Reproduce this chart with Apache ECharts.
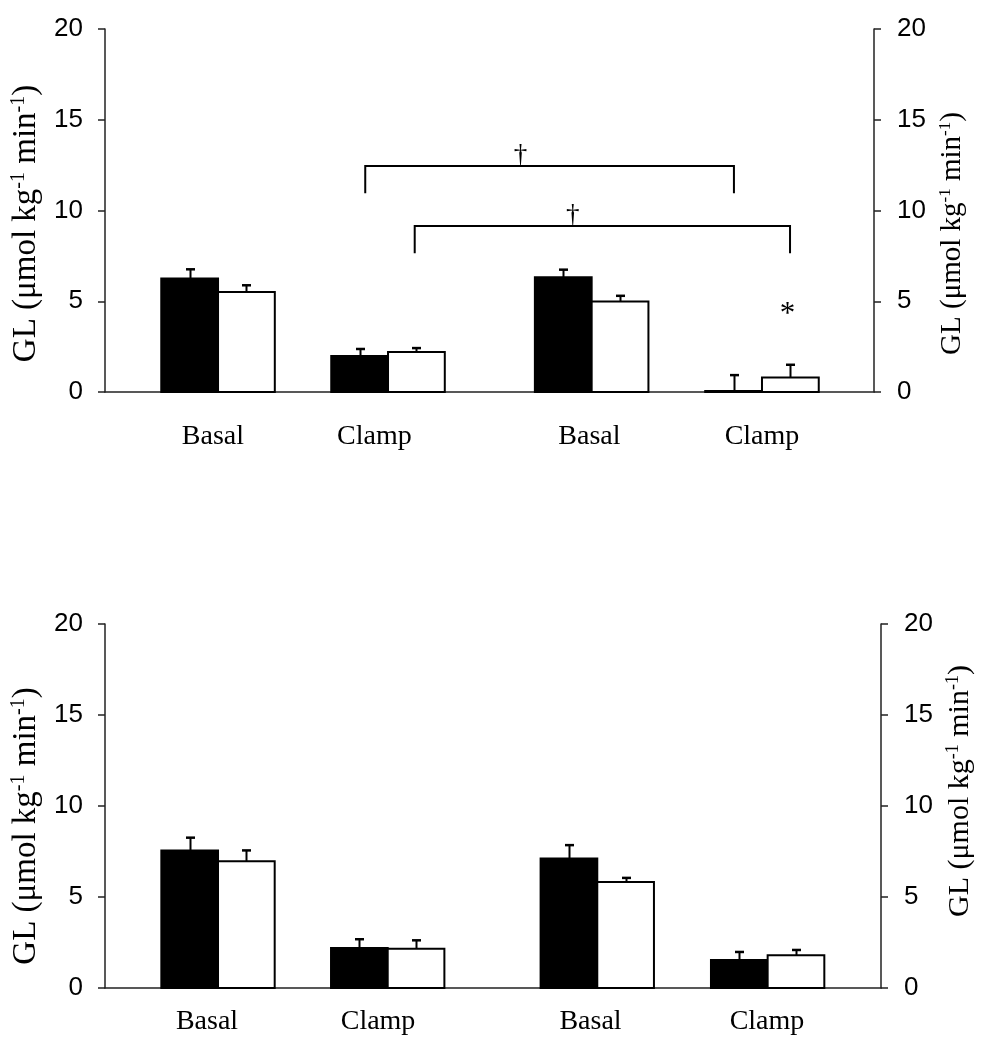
<!DOCTYPE html>
<html><head><meta charset="utf-8">
<script src="https://cdn.jsdelivr.net/npm/echarts@6/dist/echarts.min.js"></script>
<style>html,body{margin:0;padding:0;background:#fff}#c{width:985px;height:1050px}</style>
</head><body><div id="c"></div>
<script>
// ---- data ----
const categories = ['Basal', 'Clamp', 'Basal', 'Clamp'];
const yTicks = [0, 5, 10, 15, 20];
// top panel
const topBlack    = [6.26, 1.98, 6.32, 0.05];
const topBlackErr = [0.50, 0.39, 0.42, 0.88];
const topWhite    = [5.51, 2.20, 4.98, 0.80];
const topWhiteErr = [0.37, 0.22, 0.32, 0.70];
// bottom panel
const botBlack    = [7.56, 2.20, 7.12, 1.54];
const botBlackErr = [0.70, 0.48, 0.73, 0.44];
const botWhite    = [6.97, 2.15, 5.83, 1.80];
const botWhiteErr = [0.59, 0.47, 0.22, 0.29];
// top panel annotations (x in slot units, y in axis units)
const bracketFrom  = [0.866, 1.157];
const bracketTo    = [3.035, 3.365];
const bracketLevel = [12.45, 9.15];
const bracketLeg   = [10.95, 7.64];
const daggerAt     = [1.78, 2.087];
const starX = 3.35, starY = 4.48;

// ---- layout ----
const topSlots = [0, 1, 2.198, 3.2];
const botSlots = [0, 1, 2.235, 3.239];
const topLabelAt = [-0.03, 0.92, 2.185, 3.2];
const botLabelAt = [-0.065, 0.943, 2.195, 3.235];
const BW = 0.334;
const AX = '#222';
const SERIF = 'Liberation Serif, Times New Roman, serif';
const SANS = 'Liberation Sans, Arial, sans-serif';

function barSeries(g, slots, vals, errs, side, fill) {
  return {
    type: 'custom', xAxisIndex: g, yAxisIndex: g * 2, clip: false,
    data: vals.map((v, i) => [slots[i], v, errs[i]]),
    renderItem: (params, api) => {
      const c = api.value(0), v = api.value(1), e = api.value(2);
      const x0 = side < 0 ? c - BW : c, x1 = x0 + BW;
      const pA = api.coord([x0, 0]), pB = api.coord([x1, v]);
      const pT = api.coord([(x0 + x1) / 2, v + e]);
      const top = pB[1], base = pA[1], cx = Math.round(pT[0]) + 0.5;
      return { type: 'group', children: [
        { type: 'line', shape: { x1: cx, y1: top, x2: cx, y2: pT[1] }, style: { stroke: '#000', lineWidth: 2 } },
        { type: 'line', shape: { x1: cx - 4.5, y1: pT[1], x2: cx + 4.5, y2: pT[1] }, style: { stroke: '#000', lineWidth: 2.5 } },
        { type: 'rect', shape: { x: pA[0], y: top, width: pB[0] - pA[0], height: Math.max(base - top, 0.5) },
          style: { fill: fill, stroke: '#000', lineWidth: 2 } }
      ]};
    }
  };
}

const annotSeries = {
  type: 'custom', xAxisIndex: 0, yAxisIndex: 0, clip: false,
  data: bracketFrom.map((f, i) => [i]),
  renderItem: (params, api) => {
    const i = params.dataIndex;
    const a = api.coord([bracketFrom[i], bracketLevel[i]]);
    const b = api.coord([bracketTo[i], bracketLevel[i]]);
    const la = api.coord([bracketFrom[i], bracketLeg[i]]);
    const d = api.coord([daggerAt[i], bracketLevel[i]]);
    const children = [
      { type: 'polyline', shape: { points: [[a[0], la[1]], a, b, [b[0], la[1]]] },
        style: { stroke: '#000', lineWidth: 2, fill: null } },
      { type: 'text', style: { text: '†', x: d[0], y: d[1] + 3, fontFamily: SERIF, fontSize: 27,
        fill: '#000', align: 'center', verticalAlign: 'bottom' } }
    ];
    if (i === 0) {
      const s = api.coord([starX, starY]);
      children.push({ type: 'text', style: { text: '*', x: s[0], y: s[1] + 4, fontFamily: SERIF, fontSize: 31,
        fill: '#000', align: 'center', verticalAlign: 'middle' } });
    }
    return { type: 'group', children };
  }
};

const nameText = '{n|GL (\u03bcmol kg}{s|-1}{n| min}{s|-1}{n|)}';
function yAx(g, pos, nameFs, nameGap, margin, shiftDown) {
  const pad = shiftDown >= 0 ? [0, 2 * shiftDown, 0, 0] : [0, 0, 0, -2 * shiftDown];
  return {
    type: 'value', gridIndex: g, position: pos, min: 0, max: 20, interval: 5,
    axisLine: { show: true, onZero: false, lineStyle: { color: AX, width: 1.5 } },
    axisTick: { show: true, inside: false, length: 7, lineStyle: { color: AX, width: 1.5 } },
    splitLine: { show: false },
    axisLabel: { margin: margin, fontFamily: SANS, fontSize: 26, color: '#000',
      formatter: v => yTicks.includes(v) ? String(v) : '' },
    name: nameText, nameLocation: 'middle', nameRotate: 90, nameGap: nameGap,
    nameTextStyle: { padding: pad, rich: {
      n: { fontFamily: SERIF, fontSize: nameFs, color: '#000', lineHeight: nameFs + 2 },
      s: { fontFamily: SERIF, fontSize: Math.round(nameFs * 0.6), color: '#000', verticalAlign: 'top', lineHeight: Math.round(nameFs * 0.6) }
    } }
  };
}
function xAx(g, min, max, labelAt, margin) {
  return {
    type: 'value', gridIndex: g, min: min, max: max,
    axisLine: { show: true, onZero: false, lineStyle: { color: AX, width: 1.5 } },
    axisTick: { show: false }, splitLine: { show: false },
    axisLabel: { customValues: labelAt, margin: margin, fontFamily: SERIF, fontSize: 28, color: '#000',
      formatter: v => { const k = labelAt.findIndex(a => Math.abs(a - v) < 1e-6); return k >= 0 ? categories[k] : ''; } }
  };
}

const chart = echarts.init(document.getElementById('c'), null, { renderer: 'canvas' });
chart.setOption({
  backgroundColor: '#fff',
  animation: false,
  grid: [
    { left: 105, right: 111, top: 29, height: 363 },
    { left: 105, right: 104, top: 624, height: 364 }
  ],
  xAxis: [ xAx(0, -0.665, 3.859, topLabelAt, 31), xAx(1, -0.666, 3.907, botLabelAt, 20) ],
  yAxis: [
    yAx(0, 'left', 33, 61, 22, 13), yAx(0, 'right', 29, 52, 23, 23),
    yAx(1, 'left', 33, 61, 22, 20), yAx(1, 'right', 30, 52, 23, -15)
  ],
  series: [
    barSeries(0, topSlots, topBlack, topBlackErr, -1, '#000'),
    barSeries(0, topSlots, topWhite, topWhiteErr, 1, '#fff'),
    annotSeries,
    barSeries(1, botSlots, botBlack, botBlackErr, -1, '#000'),
    barSeries(1, botSlots, botWhite, botWhiteErr, 1, '#fff')
  ]
});
</script></body></html>
